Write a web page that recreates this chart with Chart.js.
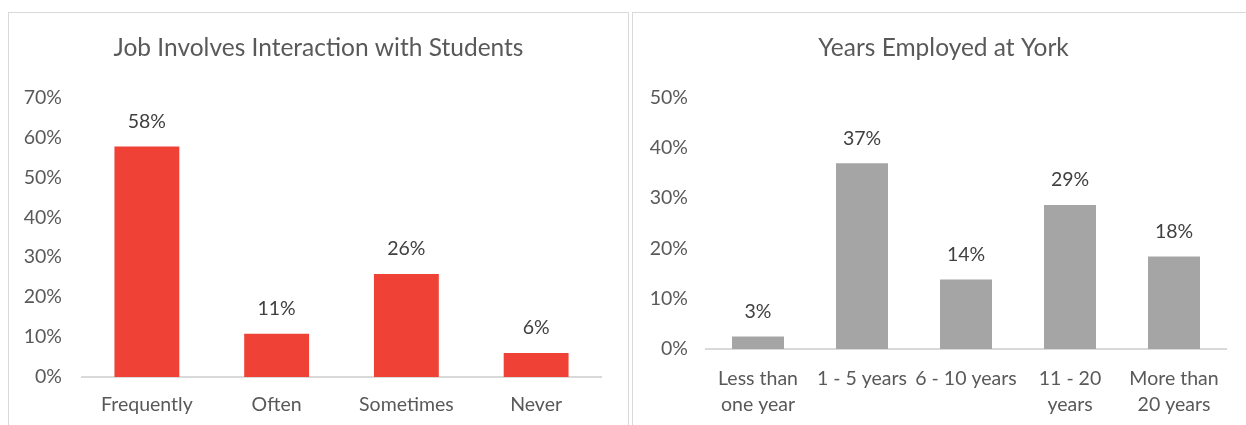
<!DOCTYPE html>
<html>
<head>
<meta charset="utf-8">
<script src="https://cdn.jsdelivr.net/npm/chart.js@4.4.0/dist/chart.umd.min.js"></script>
<style>
  body { margin: 0; background: #fff; width: 1246px; height: 425px; overflow: hidden; position: relative; }
  .panel { position: absolute; border: 1px solid #d9d9d9; background: #fff; }
  #p1 { left: 8px; top: 12px; width: 619px; height: 430px; }
  #p2 { left: 632px; top: 12px; width: 630px; height: 430px; }
  canvas { position: absolute; left: 0; top: 0; }
</style>
</head>
<body>
<div class="panel" id="p1"><canvas id="chartInteraction" width="619" height="412"></canvas></div>
<div class="panel" id="p2"><canvas id="chartYears" width="613" height="412"></canvas></div>
<script>
const interactionLabels = ["Frequently", "Often", "Sometimes", "Never"];
const interactionValues = [57.7, 10.8, 25.8, 6.0];
const interactionTicks = [0, 10, 20, 30, 40, 50, 60, 70];

const yearsLabels = [["Less than", "one year"], "1 - 5 years", "6 - 10 years", ["11 - 20", "years"], ["More than", "20 years"]];
const yearsValues = [2.5, 36.9, 13.8, 28.6, 18.4];
const yearsTicks = [0, 10, 20, 30, 40, 50];

const fontFamily = "Lato, 'Open Sans', sans-serif";

// draws the % value above each bar
const valueLabels = {
  id: "valueLabels",
  afterDatasetsDraw(chart) {
    const ctx = chart.ctx;
    ctx.save();
    ctx.font = "19.5px " + fontFamily;
    ctx.fillStyle = "#404040";
    ctx.textAlign = "center";
    ctx.textBaseline = "middle";
    chart.data.datasets.forEach((ds, i) => {
      chart.getDatasetMeta(i).data.forEach((bar, j) => {
        ctx.fillText(Math.round(ds.data[j]) + "%", bar.x, bar.y - 25);
      });
    });
    ctx.restore();
  },
};

// center the title on the whole panel, not only the padded area
const titleCenter = {
  id: "titleCenter",
  afterLayout(chart, args, opts) {
    if (chart.titleBlock) {
      chart.titleBlock.left = 0;
      chart.titleBlock.right = chart.width + (opts.shift || 0) * 2;
    }
  },
};

function makeChart(id, labels, values, ticks, color, title, yAxisWidth, xAxisHeight, rightPad, tickPad, xPad, titleShift) {
  return new Chart(document.getElementById(id), {
    type: "bar",
    data: {
      labels: labels,
      datasets: [{
        data: values,
        backgroundColor: color,
        barPercentage: 0.5,
        categoryPercentage: 1,
      }],
    },
    options: {
      responsive: false,
      animation: false,
      layout: { padding: { left: 0, right: rightPad, top: 0, bottom: 0 } },
      plugins: {
        legend: { display: false },
        tooltip: { enabled: false },
        titleCenter: { shift: titleShift },
        title: {
          display: true,
          text: title,
          color: "#595959",
          font: { family: fontFamily, size: 24.5, weight: "normal" },
          padding: { top: 20, bottom: 35 },
        },
      },
      scales: {
        x: {
          grid: { display: false },
          border: { color: "#d9d9d9", width: 2 },
          ticks: {
            color: "#595959",
            font: { family: fontFamily, size: 19.5, lineHeight: 1.33 },
            padding: xPad,
            maxRotation: 0,
            autoSkip: false,
          },
          afterFit: (scale) => { scale.height = xAxisHeight; },
        },
        y: {
          min: 0,
          max: ticks[ticks.length - 1],
          grid: { display: false, drawTicks: false },
          border: { display: false },
          afterBuildTicks: (scale) => { scale.ticks = ticks.map((v) => ({ value: v })); },
          ticks: {
            color: "#595959",
            font: { family: fontFamily, size: 19.5 },
            padding: tickPad,
            callback: (v) => v + "%",
          },
          afterFit: (scale) => { scale.width = yAxisWidth; },
        },
      },
    },
    plugins: [valueLabels, titleCenter],
  });
}

makeChart("chartInteraction", interactionLabels, interactionValues, interactionTicks, "#ef4136",
  "Job Involves Interaction with Students", 73, 48, 27, 20, 7, 0);
makeChart("chartYears", yearsLabels, yearsValues, yearsTicks, "#a5a5a5",
  "Years Employed at York", 73, 76, 20, 18, 9, 4);
</script>
</body>
</html>
